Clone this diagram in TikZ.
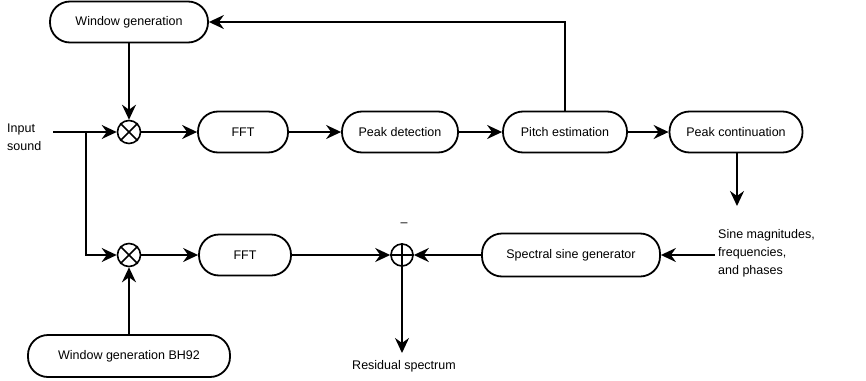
\documentclass[tikz,border=0pt]{standalone}
\usepackage{fontspec}
\setmainfont{Liberation Sans}
\usetikzlibrary{arrows.meta}
\begin{document}
\begin{tikzpicture}[x=1pt,y=-1pt,
  every node/.style={font=\fontsize{12.5}{18}\selectfont},
  block/.style={draw, line width=1.8pt, rounded corners=20pt, minimum height=41pt, inner sep=0pt, align=center},
  junction/.style={draw, circle, line width=1.6pt, minimum size=23pt, inner sep=0pt},
  flow/.style={line width=1.8pt, -{Stealth[length=15pt,width=14pt,inset=5pt]}},
  label/.style={inner sep=0pt, align=left}]
\useasboundingbox (0,0) rectangle (866,380);

% upper analysis chain
\node[block, minimum width=158pt] (wg) at (129,22) {Window generation};
\node[junction] (mul1) at (129,132) {};
\draw[line width=1.6pt] (mul1.north west) -- (mul1.south east) (mul1.north east) -- (mul1.south west);
\node[block, minimum width=90pt] (fft1) at (243,132) {FFT};
\node[block, minimum width=116pt] (pd) at (400,132) {Peak detection};
\node[block, minimum width=124pt] (pe) at (565,132) {Pitch estimation};
\node[block, minimum width=133pt] (pc) at (736,132) {Peak continuation};

% input
\node[label, anchor=west] (in) at (7,137) {Input\\sound};
\coordinate (inend) at (53,132);
\coordinate (br) at (86,132);

% lower residual chain
\node[junction] (mul2) at (129,255) {};
\draw[line width=1.6pt] (mul2.north west) -- (mul2.south east) (mul2.north east) -- (mul2.south west);
\node[block, minimum width=92pt] (fft2) at (245,255) {FFT};
\node[junction, minimum size=22pt] (plus) at (402,255) {};
\draw[line width=1.6pt] (plus.north) -- (plus.south) (plus.west) -- (plus.east);
\node[inner sep=0pt] (minus) at (404,225) {–};
\node[block, minimum width=178pt, minimum height=43pt] (ssg) at (571,255) {Spectral sine generator};
\node[label, anchor=west] (sine) at (718,253) {Sine magnitudes,\\frequencies,\\and phases};
\node[block, minimum width=202pt, minimum height=42pt] (bh) at (129,356) {Window generation BH92};
\node[inner sep=0pt] (res) at (404,366) {Residual spectrum};

\coordinate (pcout) at (737,206);
\coordinate (resout) at (402,353);
\coordinate (sinein) at (715,255);

% connectors
\draw[flow] (inend) -- (mul1);
\draw[flow] (br) |- (mul2);
\draw[flow] (wg) -- (mul1);
\draw[flow] (mul1) -- (fft1);
\draw[flow] (fft1) -- (pd);
\draw[flow] (pd) -- (pe);
\draw[flow] (pe) -- (pc);
\draw[flow] (pe.north) |- (wg.east);
\draw[flow] (pc.south -| pcout) -- (pcout);
\draw[flow] (sinein) -- (ssg);
\draw[flow] (ssg) -- (plus);
\draw[flow] (fft2) -- (plus);
\draw[flow] (plus) -- (resout);
\draw[flow] (bh) -- (mul2);
\draw[flow] (mul2) -- (fft2);
\end{tikzpicture}
\end{document}
